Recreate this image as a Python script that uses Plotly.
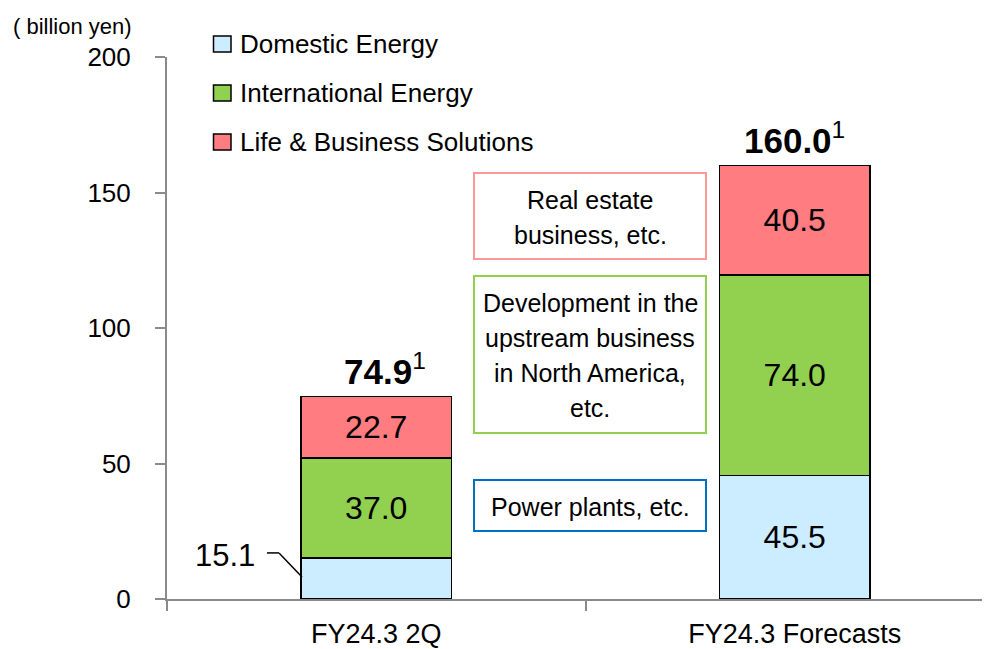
import plotly.graph_objects as go

# ---- data ----
categories = ["FY24.3 2Q", "FY24.3 Forecasts"]
series_names = ["Domestic Energy", "International Energy", "Life & Business Solutions"]
domestic = [15.1, 45.5]
international = [37.0, 74.0]
life_business = [22.7, 40.5]
totals = [74.9, 160.0]
y_ticks = [0, 50, 100, 150, 200]
box_lines = [["Real estate", "business, etc."],
             ["Development in the", "upstream business", "in North America,", "etc."],
             ["Power plants, etc."]]

# ---- style ----
colors = ["#CCECFF", "#92D050", "#FF7C80"]
box_border = ["#FF9999", "#92D050", "#0070C0"]
FONT = "Liberation Sans, Arial, sans-serif"
AXIS_COL = "#8A8A8A"

OFF = 8                      # page body margin of the browser
W, H = 990 - OFF, 649 - OFF  # figure size so that it fits the window
# plot area in reference-window pixels
L, R, T, B = 167, 990, 57, 599
PW, PH = R - L, B - T

def px(x):
    return (x - L) / PW

def py(y):
    return (B - y) / PH

fig = go.Figure()
series = [domestic, international, life_business]
for i, (name, vals) in enumerate(zip(series_names, series)):
    texts = [f"{v:.1f}" for v in vals]
    if i == 0:
        texts[0] = ""  # shown outside with a leader line
    fig.add_trace(go.Bar(
        x=categories, y=vals, name=name,
        marker=dict(color=colors[i], line=dict(color="black", width=1.5)),
        width=0.359,
        text=texts, textposition="inside", insidetextanchor="middle",
        textfont=dict(family=FONT, size=32, color="black"),
        showlegend=False, hoverinfo="skip",
    ))

annotations = []
shapes = []

# totals
total_xshift = [9, 0]
for c, t, xs in zip(categories, totals, total_xshift):
    annotations.append(dict(
        x=c, y=t, xref="x", yref="y", xanchor="center", yanchor="bottom",
        text=f"<b>{t:.1f}</b><sup>1</sup>", showarrow=False, xshift=xs, yshift=3,
        font=dict(family=FONT, size=35, color="black"),
    ))

# outside label for 15.1 with leader line
annotations.append(dict(
    x=px(257), y=domestic[0] + 1.0, xref="paper", yref="y", xanchor="right", yanchor="middle",
    text=f"{domestic[0]:.1f}", showarrow=False,
    font=dict(family=FONT, size=31, color="black"),
))
shapes.append(dict(type="line", xref="paper", yref="y", x0=px(267), x1=px(279),
                   y0=domestic[0] + 1.9, y1=domestic[0] + 1.9, line=dict(color="black", width=1.5)))
shapes.append(dict(type="line", xref="paper", yref="y", x0=px(279), x1=px(302),
                   y0=domestic[0] + 1.9, y1=domestic[0] * 0.54, line=dict(color="black", width=1.5)))

# explanation boxes (rect + one annotation per line)
box_geo = [(173, 259), (276, 433), (480, 531)]  # pixel top/bottom
line_centers = [[200, 235], [303, 338, 373, 408], [507]]
bx0, bx1 = 474, 706
for lines, (t0, t1), bc, ys in zip(box_lines, box_geo, box_border, line_centers):
    shapes.append(dict(type="rect", xref="paper", yref="paper",
                       x0=px(bx0), x1=px(bx1), y0=py(t1), y1=py(t0),
                       fillcolor="white", line=dict(color=bc, width=2), layer="above"))
    for ln, yc in zip(lines, ys):
        annotations.append(dict(
            x=px((bx0 + bx1) / 2), y=py(yc), xref="paper", yref="paper",
            xanchor="center", yanchor="middle", text=ln, showarrow=False,
            font=dict(family=FONT, size=25, color="black"),
        ))

# manual legend
leg_y = [44, 93, 142]
for name, col, yc in zip(series_names, colors, leg_y):
    shapes.append(dict(type="rect", xref="paper", yref="paper",
                       x0=px(213.5), x1=px(231), y0=py(yc - 8), y1=py(yc + 8),
                       fillcolor=col, line=dict(color="black", width=1.5)))
    annotations.append(dict(
        x=px(238), y=py(yc), xref="paper", yref="paper", xanchor="left", yanchor="middle",
        text=name, showarrow=False, font=dict(family=FONT, size=26, color="black"),
    ))

# unit label
annotations.append(dict(
    x=px(11), y=py(26), xref="paper", yref="paper", xanchor="left", yanchor="middle",
    text="( billion yen)", showarrow=False, font=dict(family=FONT, size=22, color="black"),
))

# faint top shadow line
shapes.append(dict(type="rect", xref="paper", yref="paper", x0=px(43), x1=px(716),
                   y0=py(3), y1=py(0), fillcolor="#EDEDED", line=dict(width=0), layer="below"))

fig.update_layout(
    width=W, height=H, autosize=False,
    margin=dict(l=L - OFF, r=0, t=T - OFF, b=H - (B - OFF), pad=0),
    barmode="stack", bargap=0.2,
    plot_bgcolor="white", paper_bgcolor="white",
    annotations=annotations, shapes=shapes, showlegend=False,
    xaxis=dict(
        type="category", range=[-0.5, (R - 377) / 418.0], showgrid=False,
        showline=True, linecolor=AXIS_COL, linewidth=2,
        ticks="outside", tickson="boundaries", ticklen=10, tickwidth=2, tickcolor=AXIS_COL,
        tickfont=dict(family=FONT, size=27, color="black"), ticklabelstandoff=10,
        zeroline=False,
    ),
    yaxis=dict(
        range=[0, 200], tickvals=y_ticks, showgrid=False, zeroline=False,
        showline=True, linecolor=AXIS_COL, linewidth=2,
        ticks="outside", ticklen=10, tickwidth=2, tickcolor=AXIS_COL,
        tickfont=dict(family=FONT, size=26, color="black"), ticklabelstandoff=19,
    ),
)

fig.write_html("out.html")
